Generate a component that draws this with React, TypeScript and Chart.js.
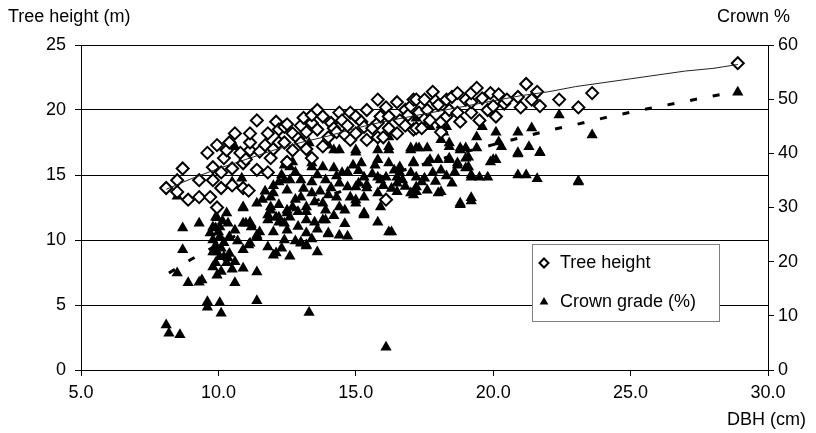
import { useEffect, useRef } from 'react';
import { Chart, registerables } from 'chart.js';

Chart.register(...registerables);

const X_TICKS = [5, 10, 15, 20, 25, 30];
const HEIGHT_TICKS = [0, 5, 10, 15, 20, 25];
const CROWN_TICKS = [0, 10, 20, 30, 40, 50, 60];

// [DBH (cm), tree height (m)]
const heightPoints: [number, number][] = [
  [8.1, 14.0], [8.5, 13.7], [8.5, 14.6], [8.7, 15.5], [8.9, 13.1], [9.3, 13.3], [9.3, 14.6], [9.6, 16.7],
  [9.7, 13.3], [9.8, 14.6], [9.8, 15.6], [9.95, 12.5], [9.95, 17.3], [10.1, 14.0], [10.1, 15.2], [10.2, 16.3],
  [10.3, 16.9], [10.4, 17.5], [10.5, 14.2], [10.5, 15.5], [10.6, 18.2], [10.8, 16.7], [10.9, 14.0], [10.9, 15.9],
  [11.0, 16.2], [11.1, 13.8], [11.15, 16.9], [11.15, 17.5], [11.15, 18.2], [11.4, 15.4], [11.4, 19.2], [11.5, 16.8],
  [11.7, 17.3], [11.8, 15.2], [11.8, 18.2], [11.9, 16.3], [12.0, 17.0], [12.1, 19.1], [12.2, 17.5], [12.2, 18.5],
  [12.4, 17.5], [12.4, 18.7], [12.5, 16.0], [12.5, 18.9], [12.7, 16.9], [12.7, 18.2], [12.9, 17.8], [13.0, 17.5],
  [13.0, 18.8], [13.1, 19.4], [13.2, 17.0], [13.2, 18.3], [13.4, 16.3], [13.4, 19.0], [13.4, 19.6], [13.6, 18.5],
  [13.6, 20.0], [13.8, 17.2], [13.8, 19.5], [14.0, 17.9], [14.1, 19.0], [14.2, 18.6], [14.3, 18.3], [14.4, 19.8],
  [14.5, 19.2], [14.6, 18.1], [14.7, 18.8], [14.8, 17.7], [14.8, 19.8], [15.0, 18.2], [15.0, 19.5], [15.2, 19.1],
  [15.3, 18.7], [15.4, 17.7], [15.4, 20.0], [15.6, 18.6], [15.8, 17.9], [15.8, 19.0], [15.8, 20.8], [15.9, 19.5],
  [16.0, 17.9], [16.1, 13.1], [16.1, 20.2], [16.2, 18.6], [16.2, 19.5], [16.5, 18.2], [16.5, 20.6], [16.6, 19.2],
  [16.8, 18.8], [16.8, 20.0], [16.9, 19.6], [17.0, 20.3], [17.1, 18.5], [17.1, 20.8], [17.2, 18.6], [17.2, 20.8],
  [17.3, 19.8], [17.4, 18.6], [17.5, 20.8], [17.6, 20.0], [17.7, 19.2], [17.8, 21.4], [17.9, 20.7], [18.0, 20.4],
  [18.1, 18.3], [18.1, 19.1], [18.3, 19.5], [18.3, 20.8], [18.4, 20.0], [18.5, 21.0], [18.7, 19.8], [18.7, 21.3],
  [18.8, 19.1], [19.0, 20.8], [19.2, 19.8], [19.2, 20.6], [19.2, 21.3], [19.4, 21.7], [19.5, 19.2], [19.6, 20.9],
  [19.8, 20.0], [19.9, 21.3], [20.0, 20.3], [20.1, 19.5], [20.2, 21.2], [20.4, 20.5], [20.5, 20.8], [20.9, 21.0],
  [21.0, 20.2], [21.2, 22.0], [21.4, 20.8], [21.6, 21.4], [21.7, 20.3], [22.4, 20.8], [23.1, 20.2], [23.6, 21.3],
  [28.9, 23.6],
];

// [DBH (cm), crown grade (%)]
const crownPoints: [number, number][] = [
  [8.1, 8.3], [8.2, 6.8], [8.6, 6.5], [9.6, 11.6], [9.6, 12.6], [10.05, 12.4], [10.1, 10.5], [11.4, 12.8],
  [13.3, 10.6], [16.1, 4.2],
  [8.5, 17.9], [8.9, 16.1], [9.3, 16.2], [9.4, 16.6], [9.95, 17.5], [10.6, 16.1], [11.4, 18.1], [10.9, 18.8],
  [10.5, 18.6], [9.8, 19.0], [10.1, 18.2], [10.6, 20.0],
  [8.7, 22.2], [9.9, 21.8], [10.2, 20.9], [9.9, 19.8], [10.3, 19.8], [10.05, 20.9], [10.35, 20.7], [9.8, 21.8],
  [10.9, 22.2], [11.1, 23.1], [11.4, 24.9], [11.8, 22.7], [12.1, 21.6], [12.0, 21.2], [12.4, 24.0], [13.0, 23.6],
  [13.2, 23.1], [13.0, 23.4], [13.2, 22.9], [14.0, 25.1], [14.7, 24.7], [11.15, 23.4], [11.4, 24.6], [9.8, 24.0],
  [10.05, 24.6], [10.4, 24.6], [9.7, 25.3], [14.4, 24.9], [13.2, 25.3], [10.1, 22.5], [10.2, 23.5], [9.9, 23.0],
  [10.4, 21.5], [10.7, 23.8], [12.3, 22.5], [12.6, 21.0], [12.8, 23.8], [13.6, 21.8], [13.4, 24.2],
  [8.7, 26.2], [9.3, 27.1], [9.8, 26.4], [9.9, 28.2], [9.9, 26.2], [9.95, 28.1], [10.05, 26.4], [10.35, 27.1],
  [10.9, 27.1], [11.0, 27.1], [11.15, 27.3], [11.2, 26.4], [11.5, 25.5], [11.8, 27.7], [11.8, 28.6], [11.9, 29.5],
  [12.0, 25.5], [12.1, 28.2], [12.2, 27.3], [12.2, 28.2], [12.4, 27.1], [12.5, 29.0], [12.5, 29.5], [12.6, 28.2],
  [12.9, 29.2], [13.2, 29.2], [13.2, 27.7], [13.5, 27.3], [13.8, 27.7], [13.9, 27.7], [14.0, 25.3], [15.3, 28.6],
  [15.3, 28.8], [15.8, 27.3], [16.2, 25.5], [16.3, 25.5], [10.9, 29.9], [10.0, 25.5], [10.15, 27.5], [10.3, 29.0],
  [10.6, 25.8], [12.5, 25.8], [12.9, 26.5], [13.6, 26.0], [13.9, 29.5], [14.2, 28.5], [14.6, 29.5], [14.6, 27.0],
  [8.5, 32.1], [10.9, 30.1], [11.4, 30.8], [11.9, 30.1], [11.9, 31.9], [12.0, 32.7], [12.2, 34.7], [12.5, 33.2],
  [12.4, 35.1], [12.7, 30.1], [13.0, 31.9], [13.2, 30.1], [13.4, 32.7], [13.4, 34.7], [13.8, 30.8], [14.0, 32.3],
  [14.1, 33.6], [14.3, 31.9], [14.4, 30.1], [14.4, 34.5], [14.7, 33.8], [14.8, 31.9], [15.0, 30.8], [15.0, 31.4],
  [15.0, 33.8], [15.1, 34.5], [15.3, 29.0], [15.3, 31.9], [15.4, 33.6], [15.4, 34.2], [15.8, 32.7], [15.9, 30.1],
  [16.5, 32.9], [17.0, 32.7], [17.1, 32.3], [17.2, 32.9], [18.0, 32.7], [18.1, 32.9], [18.8, 30.5], [18.8, 30.8],
  [19.2, 31.2], [19.2, 31.8], [17.2, 33.8], [17.4, 34.7], [16.5, 34.5], [23.1, 34.7], [10.5, 34.7], [10.85, 35.4],
  [12.6, 35.1], [13.0, 35.1], [13.9, 35.1], [11.6, 31.5], [11.7, 33.0], [12.0, 34.0], [12.2, 30.5], [12.8, 31.5],
  [13.1, 33.5], [13.5, 31.0], [13.7, 33.0], [16.0, 34.0], [16.3, 33.5], [16.8, 33.9], [17.6, 33.2], [17.9, 34.8],
  [18.5, 34.5],
  [12.4, 37.8], [12.6, 37.5], [12.7, 38.4], [13.4, 37.5], [13.4, 38.2], [13.8, 37.5], [14.2, 37.3], [14.5, 36.4],
  [14.9, 37.8], [15.2, 38.2], [15.3, 35.6], [15.7, 37.8], [15.8, 35.6], [15.8, 38.8], [15.9, 35.1], [16.1, 35.6],
  [16.2, 38.2], [16.4, 36.9], [16.5, 35.6], [16.6, 36.4], [16.6, 37.5], [16.7, 35.1], [17.0, 36.4], [17.1, 38.2],
  [17.1, 38.4], [17.2, 35.6], [17.5, 35.4], [17.6, 38.2], [17.7, 38.8], [17.8, 36.4], [18.0, 38.8], [18.1, 36.9],
  [18.4, 39.1], [18.4, 38.8], [18.7, 38.2], [18.7, 37.8], [19.0, 37.3], [19.0, 39.1], [19.1, 37.5], [19.1, 39.3],
  [19.2, 35.6], [19.2, 36.0], [19.5, 35.6], [19.8, 35.6], [19.9, 38.4], [20.0, 38.8], [20.1, 38.8], [20.9, 36.0],
  [20.9, 39.9], [21.2, 36.0], [21.6, 35.3], [23.1, 34.9], [12.3, 36.0], [12.8, 36.5], [13.6, 36.0], [14.3, 35.8],
  [14.7, 36.5], [15.1, 36.8], [15.6, 36.2], [18.3, 35.8], [18.6, 36.5],
  [10.6, 41.2], [13.3, 41.9], [13.8, 41.5], [14.0, 41.5], [14.2, 40.6], [14.4, 40.6], [15.0, 40.2], [15.0, 40.6],
  [15.8, 40.6], [16.2, 40.6], [16.2, 41.2], [16.2, 43.0], [17.0, 40.6], [17.0, 41.0], [17.2, 41.0], [17.3, 41.0],
  [17.6, 41.0], [17.2, 46.5], [17.6, 45.8], [17.7, 44.9], [18.1, 42.5], [18.1, 45.2], [18.2, 43.9], [18.3, 44.9],
  [18.4, 41.2], [18.4, 41.9], [18.8, 40.6], [18.8, 41.0], [19.0, 41.0], [19.4, 41.0], [19.4, 43.0], [19.6, 44.9],
  [20.1, 43.9], [20.2, 42.1], [20.3, 41.2], [20.9, 40.1], [20.9, 43.9], [21.3, 41.2], [21.4, 44.7], [21.7, 40.1],
  [21.7, 40.2], [22.4, 47.1], [23.6, 43.4], [28.9, 51.3],
];

// trend lines
const trendX = [8.1, 9, 10, 11, 12, 13, 14, 15, 16, 17, 18, 19, 20, 21, 22, 23, 24, 25, 26, 27, 28, 28.9];
const heightTrend = [13.9, 14.7, 15.5, 16.2, 16.9, 17.5, 18.0, 18.6, 19.1, 19.5, 19.9, 20.3, 20.7, 21.1, 21.4, 21.8, 22.1, 22.4, 22.7, 23.0, 23.2, 23.5];
const crownTrendX = [8.2, 9, 10, 11, 12, 13, 14, 15, 16, 17, 18, 19, 20, 21, 22, 23, 24, 25, 26, 27, 28, 28.9];
const crownTrend = [17.9, 20.4, 23.2, 25.7, 28.0, 30.2, 32.1, 34.0, 35.7, 37.3, 38.8, 40.3, 41.6, 42.9, 44.2, 45.3, 46.5, 47.6, 48.6, 49.6, 50.6, 51.4];

const FONT = '"Liberation Sans", Arial, sans-serif';
const FS = 18;

const overlay = {
  id: 'overlay',
  afterDraw(chart: any) {
    const ctx = chart.ctx;
    ctx.save();
    ctx.font = `${FS}px ${FONT}`;
    ctx.fillStyle = '#000';
    ctx.textBaseline = 'middle';
    ctx.textAlign = 'left';
    ctx.fillText('Tree height (m)', 8, 17);
    ctx.textAlign = 'right';
    ctx.fillText('Crown %', 790, 17);
    ctx.fillText('DBH (cm)', 806, 420);

    // legend box
    const lx = 532, ly = 244, lw = 187, lh = 77;
    ctx.fillStyle = '#fff';
    ctx.fillRect(lx, ly, lw, lh);
    ctx.strokeStyle = '#808080';
    ctx.lineWidth = 1;
    ctx.strokeRect(lx + 0.5, ly + 0.5, lw, lh);

    // diamond marker
    const dx = 544, dy = 263, r = 4.5;
    ctx.beginPath();
    ctx.moveTo(dx, dy - r);
    ctx.lineTo(dx + r, dy);
    ctx.lineTo(dx, dy + r);
    ctx.lineTo(dx - r, dy);
    ctx.closePath();
    ctx.fillStyle = '#fff';
    ctx.fill();
    ctx.strokeStyle = '#000';
    ctx.lineWidth = 2;
    ctx.stroke();

    // triangle marker
    const tx = 544, ty = 302, tr = 5;
    ctx.beginPath();
    ctx.moveTo(tx, ty - tr);
    ctx.lineTo(tx + tr * 0.87, ty + tr * 0.5);
    ctx.lineTo(tx - tr * 0.87, ty + tr * 0.5);
    ctx.closePath();
    ctx.fillStyle = '#000';
    ctx.fill();

    ctx.fillStyle = '#000';
    ctx.textAlign = 'left';
    ctx.fillText('Tree height', 560, 263);
    ctx.fillText('Crown grade (%)', 560, 302);
    ctx.restore();
  },
};

export default function App() {
  const ref = useRef<HTMLCanvasElement>(null);

  useEffect(() => {
    if (!ref.current) return;
    Chart.defaults.font.family = FONT;
    Chart.defaults.font.size = FS;
    Chart.defaults.color = '#000';

    const chart = new Chart(ref.current, {
      type: 'scatter',
      data: {
        datasets: [
          {
            label: 'Crown trend',
            data: crownTrendX.map((x, i) => ({ x, y: crownTrend[i] })),
            yAxisID: 'y1',
            showLine: true,
            pointRadius: 0,
            borderColor: '#000',
            borderWidth: 3,
            borderDash: [7, 16],
            order: 0,
          },
          {
            label: 'Height trend',
            data: trendX.map((x, i) => ({ x, y: heightTrend[i] })),
            yAxisID: 'y',
            showLine: true,
            pointRadius: 0,
            borderColor: '#222',
            borderWidth: 1,
            order: 1,
          },
          {
            label: 'Tree height',
            data: heightPoints.map(([x, y]) => ({ x, y })),
            yAxisID: 'y',
            pointStyle: 'rectRot',
            pointRadius: 6,
            borderWidth: 2,
            borderColor: '#000',
            backgroundColor: '#fff',
            order: 2,
          },
          {
            label: 'Crown grade (%)',
            data: crownPoints.map(([x, y]) => ({ x, y })),
            yAxisID: 'y1',
            pointStyle: 'triangle',
            pointRadius: 6.5,
            borderWidth: 0,
            borderColor: '#000',
            backgroundColor: '#000',
            order: 3,
          },
        ],
      },
      options: {
        animation: false,
        responsive: true,
        maintainAspectRatio: false,
        layout: { padding: { top: 45, left: 0, right: 0, bottom: 0 } },
        plugins: { legend: { display: false }, tooltip: { enabled: false } },
        scales: {
          x: {
            type: 'linear',
            min: 5,
            max: 30,
            afterBuildTicks: (s: any) => { s.ticks = X_TICKS.map((v) => ({ value: v })); },
            ticks: { callback: (v: any) => Number(v).toFixed(1), padding: 6, maxRotation: 0 },
            grid: { drawOnChartArea: false, drawTicks: true, tickLength: 6, color: '#000', lineWidth: 1 },
            border: { display: true, color: '#000', width: 1 },
            afterFit: (s: any) => { s.height = 63; },
          },
          y: {
            type: 'linear',
            position: 'left',
            min: 0,
            max: 25,
            afterBuildTicks: (s: any) => { s.ticks = HEIGHT_TICKS.map((v) => ({ value: v })); },
            ticks: { padding: 9 },
            grid: { drawOnChartArea: true, drawTicks: true, tickLength: 6, color: '#000', lineWidth: 1 },
            border: { display: true, color: '#000', width: 1 },
            afterFit: (s: any) => { s.width = 81; },
          },
          y1: {
            type: 'linear',
            position: 'right',
            min: 0,
            max: 60,
            afterBuildTicks: (s: any) => { s.ticks = CROWN_TICKS.map((v) => ({ value: v })); },
            ticks: { padding: 4 },
            grid: { drawOnChartArea: false, drawTicks: true, tickLength: 6, color: '#000', lineWidth: 1 },
            border: { display: true, color: '#000', width: 1 },
            afterFit: (s: any) => { s.width = 48; },
          },
        },
      },
      plugins: [overlay],
    });
    return () => chart.destroy();
  }, []);

  return (
    <div style={{ position: 'fixed', left: 0, top: 0, width: 816, height: 433, background: '#fff' }}>
      <canvas ref={ref} />
    </div>
  );
}
